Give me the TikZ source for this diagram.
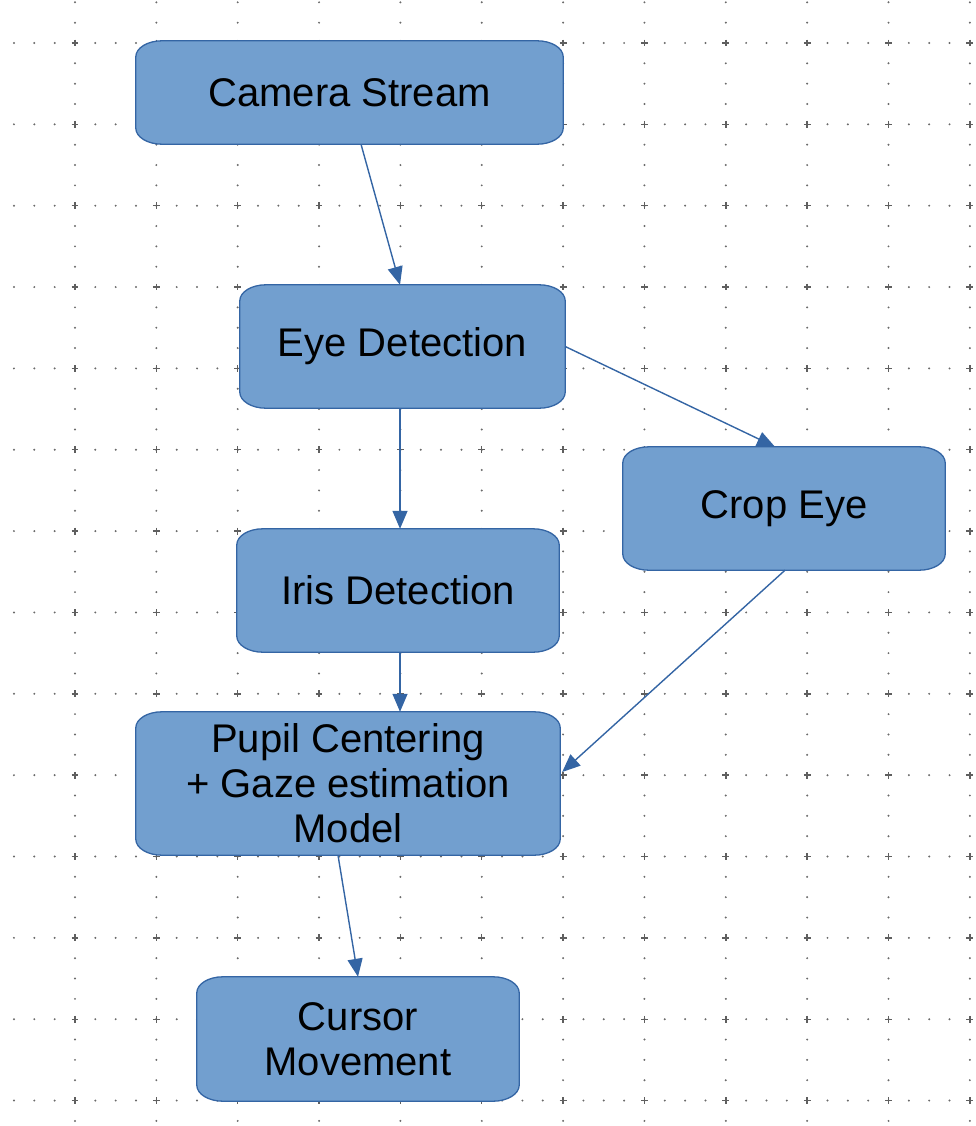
\documentclass[tikz,border=0pt]{standalone}
\usepackage{fontspec}
\setmainfont{Liberation Sans}
\usetikzlibrary{arrows.meta}
\pgfdeclarelayer{bg}
\pgfsetlayers{bg,main}
\definecolor{boxfill}{HTML}{729FCF}
\definecolor{boxline}{HTML}{3465A4}
\definecolor{griddot}{HTML}{6A6A6A}
\tikzset{
  stepbox/.style={inner sep=0pt, align=center, font=\fontsize{40}{45}\selectfont, text=black},
  boxshape/.style={fill=boxfill, draw=boxline, line width=1.3pt},
  flow/.style={draw=boxline, line width=1.4pt, -{Triangle[length=18pt,width=15pt]}},
}
\newcommand\rrect[1]{%
  \path[boxshape]
  ([xshift=26pt]#1.north west) -- ([xshift=-26pt]#1.north east)
  .. controls ([xshift=-11.7pt]#1.north east) and ([yshift=-7.2pt]#1.north east) .. ([yshift=-16pt]#1.north east)
  -- ([yshift=16pt]#1.south east)
  .. controls ([yshift=7.2pt]#1.south east) and ([xshift=-11.7pt]#1.south east) .. ([xshift=-26pt]#1.south east)
  -- ([xshift=26pt]#1.south west)
  .. controls ([xshift=11.7pt]#1.south west) and ([yshift=7.2pt]#1.south west) .. ([yshift=16pt]#1.south west)
  -- ([yshift=-16pt]#1.north west)
  .. controls ([yshift=-7.2pt]#1.north west) and ([xshift=11.7pt]#1.north west) .. ([xshift=26pt]#1.north west)
  -- cycle;}
\begin{document}
\begin{tikzpicture}[x=1pt,y=-1pt]
\useasboundingbox (0,0) rectangle (976,1126);
% grid
\begin{pgfonlayer}{bg}
\foreach \k in {0,...,13} {
  \foreach \m in {-3,...,44} {
    \fill[griddot] ({75+20.3375*\m},{43+81.35*\k}) circle[radius=1.1];
  }
}
\foreach \j in {0,...,11} {
  \foreach \m in {-2,...,53} {
    \fill[griddot] ({75+81.35*\j},{43+20.3375*\m}) circle[radius=1.1];
  }
}
\foreach \j in {0,...,11} {
  \foreach \k in {0,...,13} {
    \draw[griddot!90!black, line width=1.4pt]
      ({75+81.35*\j-3.4},{43+81.35*\k}) -- ({75+81.35*\j+3.4},{43+81.35*\k})
      ({75+81.35*\j},{43+81.35*\k-3.4}) -- ({75+81.35*\j},{43+81.35*\k+3.4});
  }
}
\end{pgfonlayer}
% nodes
\node[stepbox, minimum width=427pt, minimum height=103pt] (cam) at (349.5,92.5) {Camera Stream};
\node[stepbox, minimum width=325pt, minimum height=123pt] (eye) at (402.5,346.5) {Eye Detection};
\node[stepbox, minimum width=322pt, minimum height=123pt] (crop) at (784,508.5) {Crop Eye};
\node[stepbox, minimum width=322pt, minimum height=123pt] (iris) at (398,590.5) {Iris Detection};
\node[stepbox, minimum width=424pt, minimum height=143pt] (pupil) at (348,783.5) {Pupil Centering\\+ Gaze estimation\\Model};
\node[stepbox, minimum width=322pt, minimum height=124pt] (cursor) at (358,1039) {Cursor\\Movement};
\begin{pgfonlayer}{bg}
\rrect{cam}
\rrect{eye}
\rrect{crop}
\rrect{iris}
\rrect{pupil}
\rrect{cursor}
\end{pgfonlayer}
% connectors
\draw[flow] ([xshift=11.5pt]cam.south) -- ([xshift=-2.5pt]eye.north);
\draw[flow] ([xshift=-2.5pt]eye.south) -- ([xshift=2pt]iris.north);
\draw[flow] (eye.east) -- ([xshift=-9pt]crop.north);
\draw[flow] ([xshift=1pt]crop.south) -- ([xshift=2pt,yshift=11.5pt]pupil.east);
\draw[flow] ([xshift=2pt]iris.south) -- ([xshift=52pt]pupil.north);
\draw[flow] ([xshift=-10pt]pupil.south) -- (cursor.north);
\end{tikzpicture}
\end{document}
